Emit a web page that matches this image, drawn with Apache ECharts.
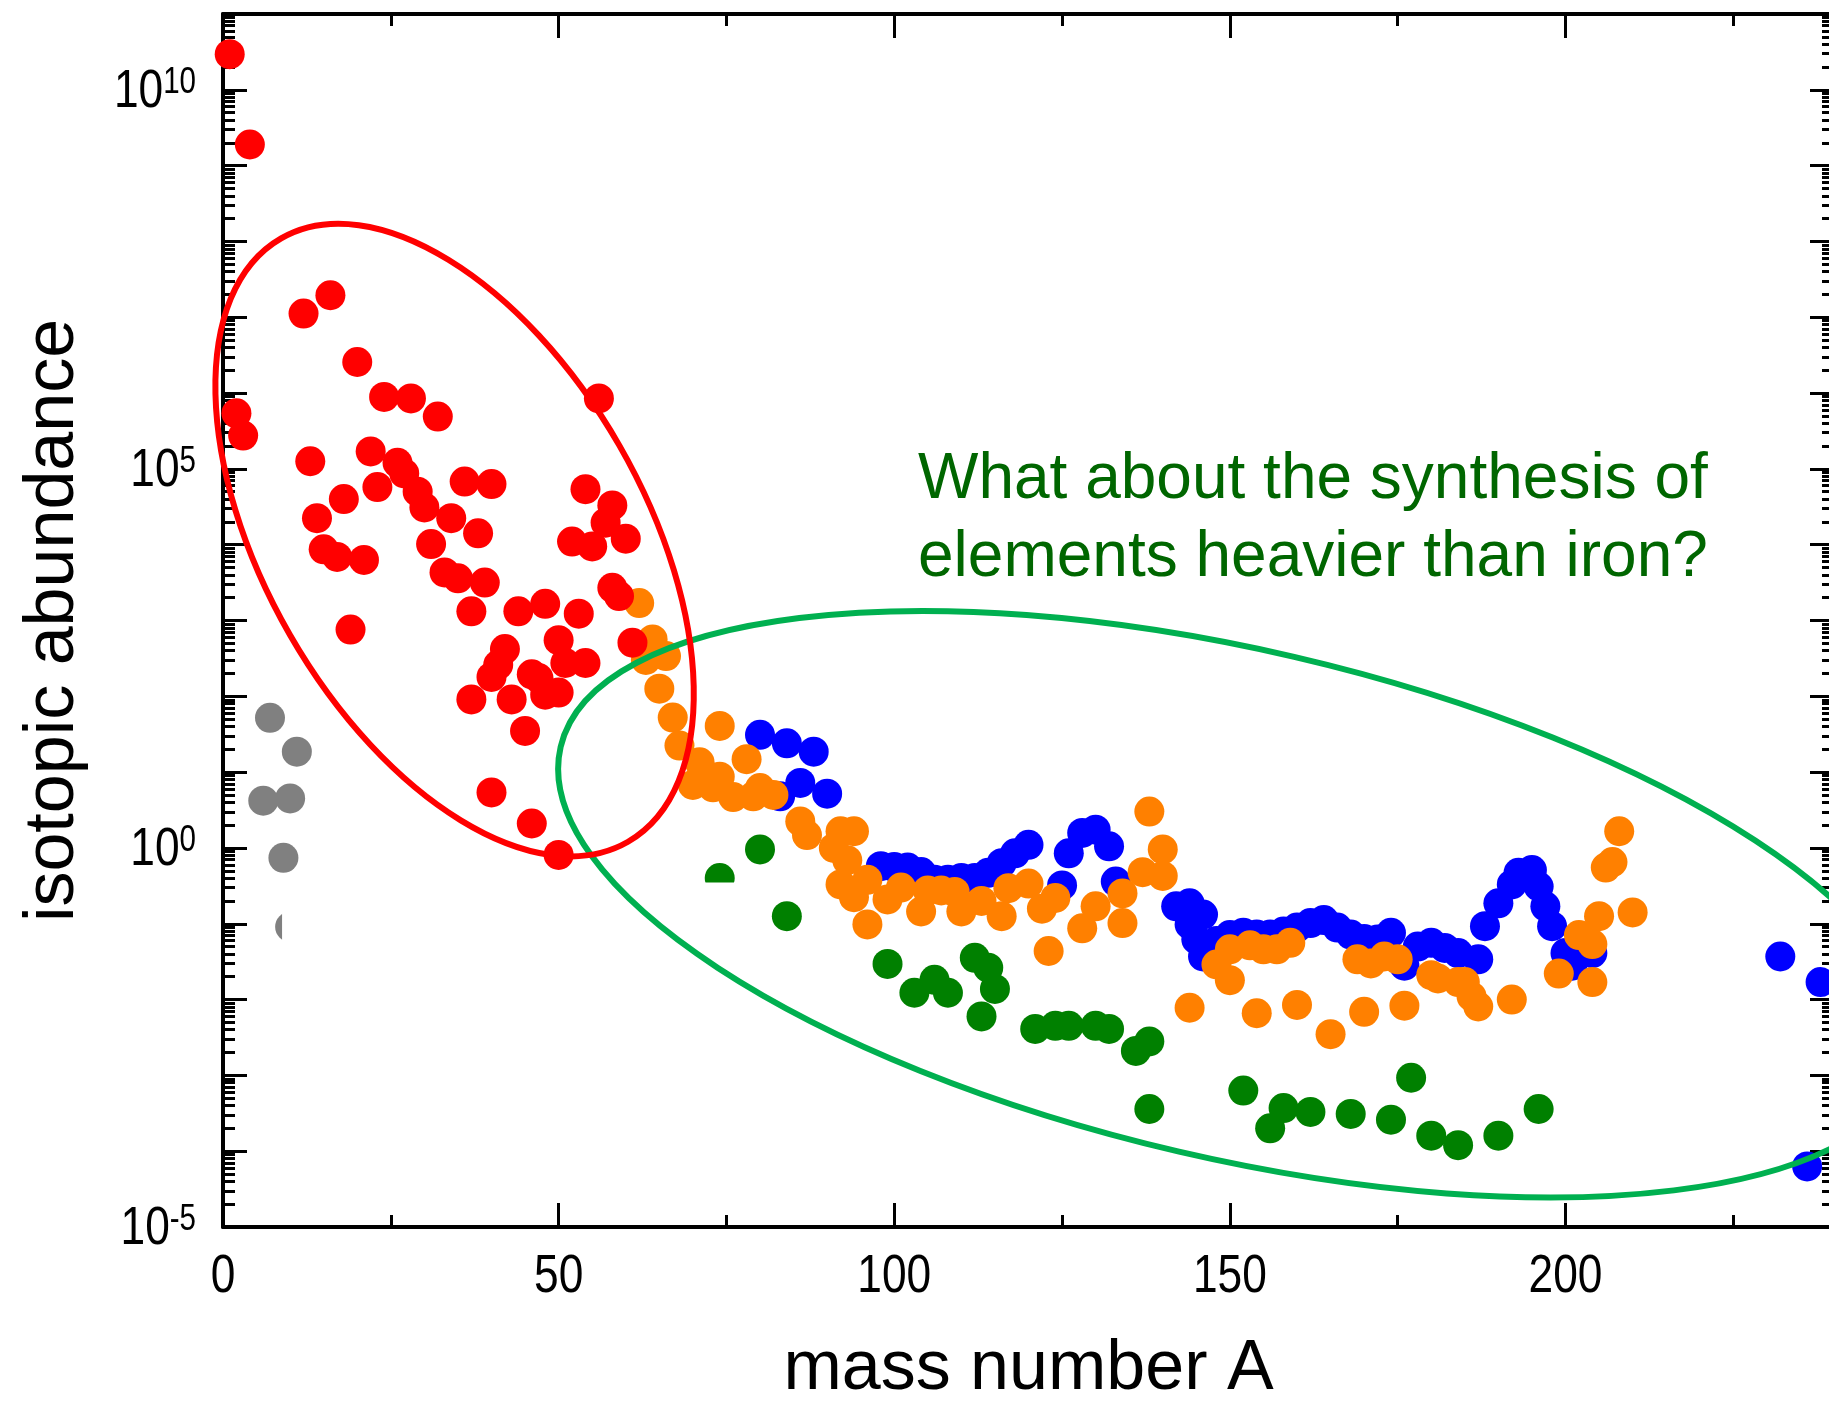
<!DOCTYPE html>
<html><head><meta charset="utf-8">
<script src="https://cdn.jsdelivr.net/npm/echarts@6/dist/echarts.min.js"></script>
<style>html,body{margin:0;padding:0;background:#fff}#c{width:1829px;height:1402px}</style>
</head><body><div id="c"></div>
<script>
// ---------- data: [mass number A, isotopic abundance] ----------
const redData = [
 [1,2.95e10],[4,1.9e9],[12,1.12e7],[16,1.95e7],[20,2.57e6],[24,8.9e5],[28,8.5e5],[32,4.9e5],
 [2,5.4e5],[3,2.75e5],[13,1.26e5],[22,1.7e5],[26,1.2e5],[27,8.7e4],[23,5.75e4],[29,5.0e4],
 [30,3.1e4],[36,6.8e4],[40,6.3e4],[18,4.0e4],[14,2.24e4],[15,8.7e3],[17,6.9e3],[21,6.3e3],
 [34,2.24e4],[38,1.41e4],[31,1.02e4],[33,4.3e3],[35,3.6e3],[39,3.16e3],[56,8.5e5],[54,5.4e4],
 [58,3.3e4],[57,1.95e4],[52,1.1e4],[55,9.5e3],[60,1.2e4],[58,2.7e3],[59,2.1e3],[37,1.32e3],
 [44,1.32e3],[48,1.66e3],[53,1.23e3],[19,760],[61,510],[50,550],[42,420],[51,275],[54,275],
 [41,260],[40,180],[46,195],[47,174],[48,105],[50,112],[37,91],[43,91],[45,35],[40,5.4],
 [46,2.1],[50,0.81]
];
const grayData = [[7,52],[11,18.6],[6,4.2],[10,4.5],[9,0.74],[10,0.091]];
const orangeData = [
 [62,1700],[64,562],[63,302],[66,339],[65,126],[67,52.5],[68,22.4],[74,40.7],[71,13.5],[78,14.8],
 [70,6.76],[74,8.7],[73,6.3],[76,4.68],[79,4.79],[82,5.0],[80,6.17],[86,2.24],[87,1.48],
 [91,1.0],[92,1.66],[94,1.66],[93,0.69],[92,0.33],[96,0.38],[94,0.224],[99,0.209],[101,0.30],
 [96,0.098],[105,0.275],[107,0.275],[109,0.263],[104,0.145],[110,0.145],[113,0.20],[116,0.126],
 [117,0.295],[120,0.339],[122,0.158],[124,0.219],[123,0.0437],[128,0.087],[130,0.17],[134,0.251],
 [137,0.479],[138,3.02],[140,0.955],[140,0.427],[134,0.102],
 [144,7.8e-3],[148,0.029],[150,0.018],[150,0.046],[153,0.052],[155,0.046],[157,0.046],[159,0.056],
 [154,6.6e-3],[160,8.5e-3],[165,3.5e-3],[170,6.9e-3],[176,8.3e-3],[169,0.034],[171,0.030],
 [173,0.037],[175,0.034],[180,0.021],[181,0.019],[184,0.017],[185,0.017],[186,0.011],[187,8.1e-3],
 [192,0.010],[199,0.022],[202,0.071],[204,0.054],[205,0.126],[204,0.017],[206,0.55],[207,0.65],
 [208,1.66],[210,0.141]
];
const blueData = [
 [80,31],[84,24],[88,18.6],[86,7.2],[90,5.2],[83,4.8],
 [98,0.575],[100,0.56],[102,0.55],[104,0.48],[106,0.38],[108,0.38],[110,0.40],[112,0.40],[114,0.47],
 [116,0.63],[118,0.85],[120,1.10],[125,0.32],[126,0.85],[128,1.58],[130,1.74],[132,1.05],[133,0.36],
 [142,0.17],[144,0.186],[146,0.132],[144,0.098],[145,0.062],[146,0.037],[148,0.059],[150,0.071],
 [152,0.076],[154,0.072],[156,0.072],[158,0.079],[160,0.089],[162,0.102],[164,0.112],[166,0.089],
 [168,0.072],[170,0.063],[172,0.062],[174,0.076],[176,0.028],[178,0.050],[180,0.056],[182,0.048],
 [184,0.041],[187,0.034],[188,0.093],[190,0.186],[192,0.33],[193,0.47],[195,0.51],[196,0.31],
 [197,0.17],[198,0.093],[200,0.041],[201,0.028],[204,0.041],
 [232,0.037],[238,0.017],[236,6.3e-5]
];
const greenData = [
 [74,0.40],[80,0.955],[84,0.126],[99,0.0295],[103,0.0123],[106,0.0182],[108,0.0123],[112,0.0355],
 [114,0.0263],[115,0.0138],[113,6.0e-3],[121,4.1e-3],[124,4.5e-3],[126,4.5e-3],[130,4.5e-3],
 [132,4.1e-3],[136,2.1e-3],[138,2.8e-3],[138,3.6e-4],[152,6.3e-4],[158,3.7e-4],[156,2.0e-4],
 [162,3.3e-4],[168,3.1e-4],[174,2.6e-4],[177,9.3e-4],[180,1.6e-4],[184,1.2e-4],[190,1.6e-4],[196,3.6e-4]
];

// ---------- axes / ticks ----------
const xMin = 0, xMax = 240, yMin = 1e-5, yMax = 1e11;
const xMajorTicks = [0, 50, 100, 150, 200];
const xMinorTicks = [25, 75, 125, 175, 225];
const yLabelTicks = [1e-5, 1, 1e5, 1e10];
const yDecadeTicks = [1e-5,1e-4,1e-3,1e-2,1e-1,1,1e1,1e2,1e3,1e4,1e5,1e6,1e7,1e8,1e9,1e10,1e11];
const yMinorMultipliers = [2,3,4,5,6,7,8,9];
const yMinorTicks = [];
yDecadeTicks.slice(0, -1).forEach(d => yMinorMultipliers.forEach(m => yMinorTicks.push(m * d)));

const xTitle = 'mass number A';
const yTitle = 'isotopic abundance';
const noteLines = ['What about the synthesis of', 'elements heavier than iron?'];

// annotation ellipses: centre in data units, radii in px, tilt in degrees (clockwise)
const redEllipse = {a: 34.5, v: 1.15e4, rx: 348, ry: 190, tilt: 60.1, color: '#ff0000'};
const greenEllipse = {a: 151.0, v: 0.181, rx: 694, ry: 254, tilt: 13.1, color: '#00b050'};

const FONT = '"Liberation Sans",Arial,Helvetica,sans-serif';
const NARROW = 0.82;   // horizontal squeeze to imitate the condensed tick font
const BLACK = '#000';

function xAx(pos, ticks, len, withLine, withName) {
  const ax = {
    type: 'value', position: pos, min: xMin, max: xMax,
    axisLine: {show: withLine, onZero: false, lineStyle: {color: BLACK, width: 4}},
    axisTick: {show: true, inside: true, length: len, customValues: ticks, lineStyle: {color: BLACK, width: 3}},
    axisLabel: {show: false},
    splitLine: {show: false}
  };
  if (withName) {
    ax.name = xTitle; ax.nameLocation = 'middle'; ax.nameGap = 108;
    ax.nameTextStyle = {fontSize: 70, fontFamily: FONT, color: BLACK};
  }
  return ax;
}
function yAx(pos, ticks, len, withLine, withName) {
  const ax = {
    type: 'log', logBase: 10, position: pos, min: yMin, max: yMax,
    axisLine: {show: withLine, onZero: false, lineStyle: {color: BLACK, width: 4}},
    axisTick: {show: true, inside: true, length: len, customValues: ticks, lineStyle: {color: BLACK, width: 3}},
    axisLabel: {show: false},
    splitLine: {show: false}
  };
  if (withName) {
    ax.name = yTitle; ax.nameLocation = 'middle'; ax.nameGap = 134;
    ax.nameTextStyle = {fontSize: 70, fontFamily: FONT, color: BLACK};
  }
  return ax;
}
function scat(name, data, color, z) {
  return {type: 'scatter', name, data, xAxisIndex: 0, yAxisIndex: 0, symbol: 'circle', symbolSize: 30,
          itemStyle: {color, opacity: 1}, z, clip: false, silent: true, emphasis: {disabled: true}};
}

const chart = echarts.init(document.getElementById('c'));
chart.setOption({
  animation: false,
  backgroundColor: '#fff',
  grid: {left: 223, top: 14, width: 1611, height: 1213, containLabel: false, outerBoundsMode: 'none'},
  xAxis: [
    xAx('bottom', xMajorTicks, 24, true, true),
    xAx('bottom', xMinorTicks, 12, false, false),
    xAx('top', xMajorTicks, 24, true, false),
    xAx('top', xMinorTicks, 12, false, false)
  ],
  yAxis: [
    yAx('left', yDecadeTicks, 24, true, true),
    yAx('left', yMinorTicks, 12, false, false),
    yAx('right', yDecadeTicks, 24, true, false),
    yAx('right', yMinorTicks, 12, false, false)
  ],
  series: [
    scat('gray', grayData, '#808080', 1),
    scat('green', greenData, '#008000', 1),
    scat('blue', blueData, '#0000ff', 3),
    scat('orange', orangeData, '#ff8000', 4),
    scat('red', redData, '#ff0000', 5)
  ]
});

const toPx = (a, v) => chart.convertToPixel({xAxisIndex: 0, yAxisIndex: 0}, [a, v]);
function ellipseEl(e) {
  const c = toPx(e.a, e.v);
  return {type: 'ellipse', x: c[0], y: c[1], rotation: -e.tilt * Math.PI / 180, z: 20, silent: true,
          shape: {cx: 0, cy: 0, rx: e.rx, ry: e.ry},
          style: {fill: 'none', stroke: e.color, lineWidth: 6}};
}
const origin = toPx(xMin, yMin);
// tick labels (condensed look), placed through the axes' own scales
const xLabelEls = xMajorTicks.map(t => ({
  type: 'text', x: toPx(t, yMin)[0], y: origin[1] + 50, scaleX: NARROW, z: 10, silent: true,
  style: {text: String(t), fontSize: 54, fontFamily: FONT, fill: BLACK, align: 'center', verticalAlign: 'middle'}
}));
const yLabelEls = yLabelTicks.map(v => ({
  type: 'text', x: origin[0] - 27, y: toPx(xMin, v)[1] + 2, scaleX: NARROW, z: 10, silent: true,
  style: {
    text: '{b|10}{s|' + Math.round(Math.log10(v)) + '}', align: 'right', verticalAlign: 'middle',
    rich: {
      b: {fontSize: 54, fontFamily: FONT, fill: BLACK, lineHeight: 54},
      s: {fontSize: 36, fontFamily: FONT, fill: BLACK, lineHeight: 20, verticalAlign: 'top'}
    }
  }
}));
// white patch that hides part of the low-lying points in the original figure
const p1 = toPx(8.8, 0.35), p2 = toPx(80.2, 0.035);
chart.setOption({
  graphic: [
    {type: 'rect', z: 2, silent: true, shape: {x: p1[0], y: p1[1], width: p2[0] - p1[0], height: p2[1] - p1[1]},
     style: {fill: '#fff'}},
    ellipseEl(greenEllipse),
    ellipseEl(redEllipse),
    {type: 'text', x: 918, y: 480, z: 20, silent: true,
     style: {text: noteLines[0], fontSize: 64, fontFamily: FONT, fill: '#006600', align: 'left', verticalAlign: 'middle'}},
    {type: 'text', x: 918, y: 558, z: 20, silent: true,
     style: {text: noteLines[1], fontSize: 64, fontFamily: FONT, fill: '#006600', align: 'left', verticalAlign: 'middle'}}
  ].concat(xLabelEls, yLabelEls)
});
</script></body></html>
